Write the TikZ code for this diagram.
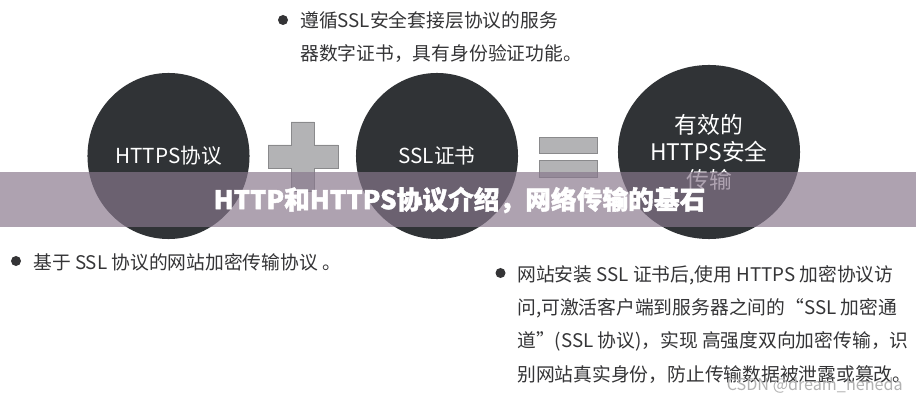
\documentclass[tikz,border=0pt]{standalone}
\usepackage{fontspec}
\setmainfont{Noto Sans CJK SC}
\newfontfamily\headfont[BoldFeatures={FakeBold=1.6}]{Noto Sans CJK SC}
\usetikzlibrary{shapes.geometric}

\begin{document}
\begin{tikzpicture}[%
    x=0.025cm,
    y=-0.025cm,
    ball/.style={
      ellipse,
      fill=ballgray,
      draw=none,
      text=white,
      inner sep=0pt,
      align=center
    },
    line/.style={
      anchor=west,
      text=textgray,
      inner sep=0pt,
      font=\fontsize{13.35}{16}\selectfont
    },
    dot/.style={
      circle,
      fill=textgray,
      inner sep=0pt,
      minimum size=0.25cm
    },
    sign/.style={
      fill=signgray,
      draw=signedge,
      semithick
    }
  ]
    \definecolor{ballgray}{RGB}{48,51,54}
    \definecolor{textgray}{RGB}{52,52,54}
    \definecolor{signgray}{RGB}{179,179,181}
    \definecolor{signedge}{RGB}{138,138,140}
    \definecolor{bandpurple}{RGB}{136,119,140}
    \useasboundingbox (0,0) rectangle (916,400);
    \fill[white] (0,0) rectangle (916,400);

    % top text
    \draw (283,20) node[dot] (D1) {};
    \draw (300,20) node[line] (T1) {遵循SSL安全套接层协议的服务};
    \draw (300,54) node[line] (T2) {器数字证书，具有身份验证功能。};

    % circles
    \draw (168.5,156) node[ball,minimum width=4.05cm,minimum height=4.15cm,
      font=\fontsize{14.7}{17}\selectfont] (B1) {HTTPS协议};
    \draw (437,156) node[ball,minimum width=4.05cm,minimum height=4.15cm,
      font=\fontsize{14.7}{17}\selectfont] (B2) {SSL证书};
    \draw (709,152) node[ball,minimum width=4.55cm,minimum height=4.35cm,
      font=\fontsize{16.2}{19.5}\selectfont] (B3) {有效的\\HTTPS安全\\传输};

    % plus and equals
    \draw[sign] (291,122) -- (314,122) -- (314,145) -- (338,145) -- (338,168)
      -- (314,168) -- (314,191) -- (291,191) -- (291,168) -- (268,168)
      -- (268,145) -- (291,145) -- cycle;
    \draw[sign] (539,137) rectangle (597,153);
    \draw[sign] (539,160) rectangle (597,177);

    % band and title
    \fill[bandpurple,fill opacity=0.68] (0,172) rectangle (916,227);
    \draw (459.5,200) node[text=white,inner sep=0pt,
      font=\fontsize{18.3}{22}\headfont\bfseries] (H) {HTTP和HTTPS协议介绍，网络传输的基石};

    % bottom left text
    \draw (16,261) node[dot] (D2) {};
    \draw (33,262) node[line] (L1) {基于 SSL 协议的网站加密传输协议 。};

    % bottom right text
    \draw (500.5,273) node[dot] (D3) {};
    \draw (517,275) node[line] (R1) {网站安装 SSL 证书后,使用 HTTPS 加密协议访};
    \draw (517,308) node[line] (R2) {问,可激活客户端到服务器之间的“SSL 加密通};
    \draw (517,341) node[line] (R3) {道”(SSL 协议)，实现 高强度双向加密传输，识};
    \draw (517,375) node[line] (R4) {别网站真实身份，防止传输数据被泄露或篡改。};

    \draw (903,385) node[anchor=east,text=gray!60,inner sep=0pt,
      font=\fontsize{11.5}{13}\selectfont] (W) {CSDN @dream\_heneda};
  \end{tikzpicture}
\end{document}
